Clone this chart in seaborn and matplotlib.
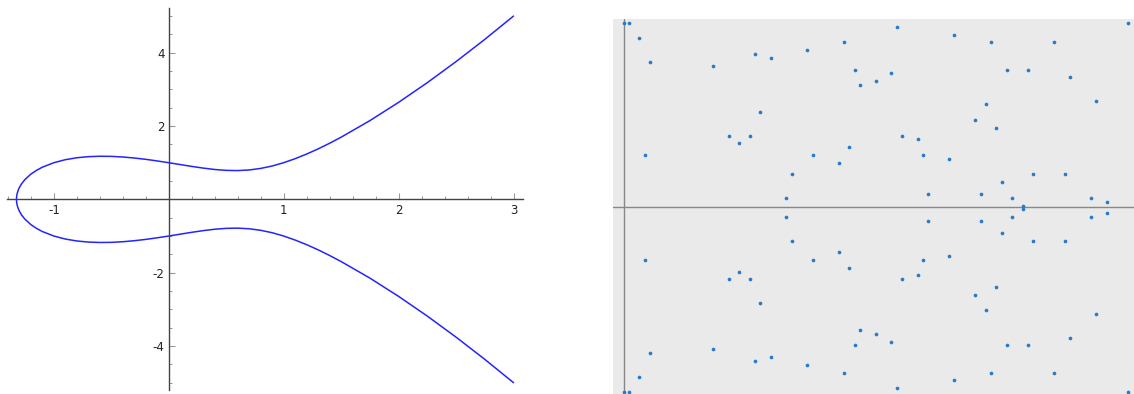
import matplotlib
matplotlib.use("Agg")
import matplotlib.pyplot as plt
from matplotlib.ticker import FixedLocator, MultipleLocator
import seaborn as sns
import pandas as pd

curve_x = [-1.32472, -1.324, -1.322, -1.318, -1.31, -1.30, -1.28, -1.25, -1.2, -1.15,
           -1.1, -1.0, -0.9, -0.8, -0.7, -0.6, -0.5, -0.4, -0.3, -0.2, -0.1, 0.0,
           0.1, 0.2, 0.3, 0.4, 0.5, 0.6, 0.7, 0.8, 0.9, 1.0, 1.1, 1.2, 1.3, 1.4,
           1.5, 1.75, 2.0, 2.25, 2.5, 2.75, 3.0]
curve_upper = [0.0, 0.055, 0.108, 0.169, 0.249, 0.321, 0.428, 0.545, 0.687, 0.793,
               0.877, 1.000, 1.082, 1.135, 1.165, 1.176, 1.173, 1.156, 1.128, 1.092,
               1.048, 1.000, 0.949, 0.899, 0.853, 0.815, 0.791, 0.785, 0.802, 0.844,
               0.910, 1.000, 1.110, 1.236, 1.377, 1.531, 1.696, 2.147, 2.646, 3.184,
               3.758, 4.364, 5.000]
curve_lower = [0.0, -0.055, -0.108, -0.169, -0.249, -0.321, -0.428, -0.545, -0.687,
               -0.793, -0.877, -1.000, -1.082, -1.135, -1.165, -1.176, -1.173, -1.156,
               -1.128, -1.092, -1.048, -1.000, -0.949, -0.899, -0.853, -0.815, -0.791,
               -0.785, -0.802, -0.844, -0.910, -1.000, -1.110, -1.236, -1.377, -1.531,
               -1.696, -2.147, -2.646, -3.184, -3.758, -4.364, -5.000]

# same curve over the field of 97 elements
field_x = [0, 0, 1, 1, 3, 3, 4, 4, 5, 5, 17, 17, 20, 20, 22, 22, 24, 24, 25, 25, 26, 26,
           28, 28, 31, 31, 32, 32, 35, 35, 36, 36, 41, 41, 42, 42, 43, 43, 44, 44, 45, 45,
           46, 48, 48, 51, 51, 52, 52, 53, 53, 56, 56, 57, 57, 58, 58, 62, 62, 63, 63,
           67, 67, 68, 68, 69, 69, 70, 70, 71, 71, 72, 72, 73, 73, 74, 74, 76, 76, 77, 77,
           78, 78, 82, 82, 84, 84, 85, 85, 89, 89, 90, 90, 92, 92, 96, 96]
field_y = [1, 96, 1, 96, 5, 92, 35, 62, 11, 86, 12, 85, 30, 67, 32, 65, 30, 67, 9, 88, 24, 73,
           10, 87, 46, 51, 40, 57, 8, 89, 35, 62, 37, 60, 6, 91, 33, 64, 13, 84, 17, 80,
           0, 16, 81, 14, 83, 2, 95, 30, 67, 31, 66, 35, 62, 45, 52, 36, 61, 4, 93,
           26, 71, 45, 52, 22, 75, 6, 91, 28, 69, 42, 55, 13, 84, 46, 51, 48, 49, 13, 84,
           40, 57, 6, 91, 40, 57, 15, 82, 46, 51, 21, 76, 47, 50, 1, 96]

x_ticks = [-1, 1, 2, 3]
y_ticks = [-4, -2, 2, 4]

sns.set_style("white")
plt.rcParams['font.family'] = ['DejaVu Sans']
plt.rcParams['axes.unicode_minus'] = False

fig = plt.figure(figsize=(11.34, 3.94), dpi=100)

# left: the real curve, drawn as one closed path
ax1 = fig.add_axes([6.7 / 1134, 4 / 394, 516 / 1134, 382 / 394])
path = pd.DataFrame({
    'x': curve_x[::-1] + curve_x[1:],
    'y': curve_upper[::-1] + curve_lower[1:],
})
sns.lineplot(data=path, x='x', y='y', sort=False, estimator=None, ax=ax1,
             color='#2424ff', linewidth=1.1)
ax1.set_xlim(-1.41, 3.08)
ax1.set_ylim(-5.2, 5.22)
for side in ['top', 'right']:
    ax1.spines[side].set_visible(False)
for side in ['left', 'bottom']:
    ax1.spines[side].set_position(('data', 0))
    ax1.spines[side].set_color('#444444')
    ax1.spines[side].set_linewidth(1.0)
ax1.xaxis.set_major_locator(FixedLocator(x_ticks))
ax1.yaxis.set_major_locator(FixedLocator(y_ticks))
ax1.xaxis.set_minor_locator(MultipleLocator(0.2))
ax1.yaxis.set_minor_locator(MultipleLocator(0.5))
ax1.tick_params(which='major', direction='in', length=4, width=0.8, color='#999999',
                labelsize=8.5, labelcolor='#222222', pad=3)
ax1.tick_params(which='minor', direction='in', length=2, width=0.7, color='#999999')
ax1.tick_params(axis='x', which='both', bottom=True)
ax1.tick_params(axis='y', which='both', left=True)
ax1.set_xlabel('')
ax1.set_ylabel('')

# right: points over the finite field
ax2 = fig.add_axes([613 / 1134, 0, 521 / 1134, 375 / 394])
ax2.set_facecolor('#eaeaea')
pts = pd.DataFrame({'x': field_x, 'y': field_y})
ax2.axvline(0, color='#888888', linewidth=1.0, zorder=1)
ax2.axhline(48.5, color='#888888', linewidth=1.0, zorder=1)
sns.scatterplot(data=pts, x='x', y='y', ax=ax2, color='#2a7ac6', s=7,
                linewidth=0, zorder=3)
ax2.set_xlim(-2.04, 97.2)
ax2.set_ylim(0.5, 97)
for side in ax2.spines:
    ax2.spines[side].set_visible(False)
ax2.set_xticks([])
ax2.set_yticks([])
ax2.set_xlabel('')
ax2.set_ylabel('')

fig.savefig('out.png', dpi=100)
